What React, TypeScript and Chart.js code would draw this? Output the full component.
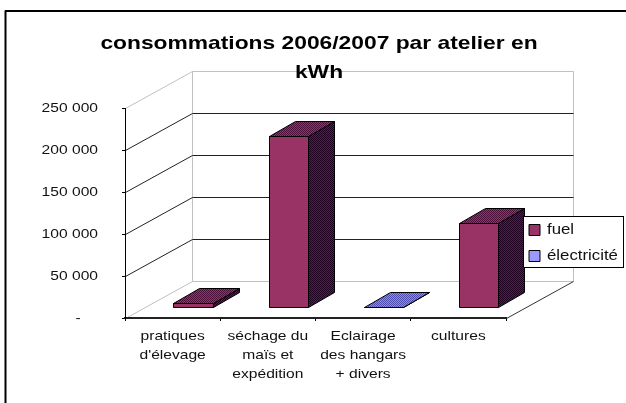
import React, { useEffect, useRef } from "react";
import { Chart, registerables } from "chart.js";

Chart.register(...registerables);

const categories = [
  ["pratiques", "d'élevage"],
  ["séchage du", "maïs et", "expédition"],
  ["Eclairage", "des hangars", "+ divers"],
  ["cultures"],
];
const fuel = [5000, 204000, 0, 100000];
const electricite = [0, 0, 500, 0];
const titleLines = ["consommations 2006/2007 par atelier en", "kWh"];

const FONT = "'Liberation Sans', Arial, sans-serif";
const TEXT_STRETCH = 1.2;
const WALL = { dx: 67, dy: -37 };
const BAR_FRONT = { dx: 20.4, dy: -11 };
const BAR_DEPTH = { dx: 26, dy: -15 };

function dither(ctx: CanvasRenderingContext2D, a: string, b: string) {
  const c = document.createElement("canvas");
  c.width = 2;
  c.height = 2;
  const g = c.getContext("2d")!;
  g.fillStyle = a;
  g.fillRect(0, 0, 2, 2);
  g.fillStyle = b;
  g.fillRect(0, 0, 1, 1);
  g.fillRect(1, 1, 1, 1);
  return ctx.createPattern(c, "repeat")!;
}

function line(ctx: CanvasRenderingContext2D, x1: number, y1: number, x2: number, y2: number, color: string, w = 1) {
  ctx.beginPath();
  ctx.moveTo(x1, y1);
  ctx.lineTo(x2, y2);
  ctx.strokeStyle = color;
  ctx.lineWidth = w;
  ctx.stroke();
}

function poly(ctx: CanvasRenderingContext2D, pts: number[][], fill: any) {
  ctx.beginPath();
  pts.forEach(([x, y], i) => (i ? ctx.lineTo(x, y) : ctx.moveTo(x, y)));
  ctx.closePath();
  ctx.fillStyle = fill;
  ctx.fill();
  ctx.strokeStyle = "#000";
  ctx.lineWidth = 1;
  ctx.stroke();
}

const plugin3d = {
  id: "plugin3d",
  beforeInit(chart: any) {
    // the reference's text is stretched sideways: widen each glyph run about its anchor
    const ctx = chart.ctx;
    const orig = ctx.fillText.bind(ctx);
    ctx.fillText = (t: string, x: number, y: number) => {
      ctx.save();
      ctx.translate(x, y);
      ctx.scale(TEXT_STRETCH, 1);
      orig(t, 0, 0);
      ctx.restore();
    };
  },
  beforeLayout(chart: any) {
    const legend = chart.legend;
    if (legend && !legend.__patched) {
      legend.__patched = true;
      legend._layers = () => [
        {
          z: 10,
          draw: (area: any) => {
            const ctx = chart.ctx;
            ctx.save();
            ctx.fillStyle = "#fff";
            ctx.fillRect(523.5, 216.5, 100, 51);
            ctx.strokeStyle = "#000";
            ctx.lineWidth = 1;
            ctx.strokeRect(523.5, 216.5, 100, 51);
            ctx.restore();
            legend.draw(area);
          },
        },
      ];
    }
  },
  afterLayout(chart: any) {
    const l = chart.legend;
    l.left = 517;
    l.right = 626;
    l.top = 211;
    l.bottom = 300;
    const t = chart.titleBlock;
    t.left = 6;
    t.right = 632;
  },
  beforeDraw(chart: any) {
    const ctx = chart.ctx;
    const { left, right, top, bottom } = chart.chartArea;
    const y = chart.scales.y;
    const L = Math.round(left) + 0.5;
    const R = Math.round(right) + 0.5;
    const T = Math.round(top) + 0.5;
    const B = Math.round(bottom) + 0.5;
    ctx.save();
    // outer frame
    line(ctx, 5.5, 403, 5.5, 10.5, "#000", 2);
    line(ctx, 5, 11, 626, 11, "#000", 2);
    // walls
    const grey = "#c0c0c0";
    line(ctx, L, T, L + WALL.dx, T + WALL.dy, grey);
    line(ctx, L + WALL.dx, T + WALL.dy, R + WALL.dx, T + WALL.dy, grey);
    line(ctx, R + WALL.dx, T + WALL.dy, R + WALL.dx, B + WALL.dy, grey);
    line(ctx, L + WALL.dx, T + WALL.dy, L + WALL.dx, B + WALL.dy, grey);
    line(ctx, L, B, L + WALL.dx, B + WALL.dy, grey);
    line(ctx, L + WALL.dx, B + WALL.dy, R + WALL.dx, B + WALL.dy, grey);
    line(ctx, R, B, R + WALL.dx, B + WALL.dy, "#333");
    y.ticks.forEach((t: any) => {
      if (t.value === 0 || t.value === y.max) return;
      const py = Math.round(y.getPixelForValue(t.value)) + 0.5;
      line(ctx, L, py, L + WALL.dx, py + WALL.dy, "#222");
      line(ctx, L + WALL.dx, py + WALL.dy, R + WALL.dx, py + WALL.dy, "#222");
    });
    ctx.restore();
  },
  beforeDatasetDraw(chart: any, args: any) {
    const ctx = chart.ctx;
    const ds = chart.data.datasets[args.index];
    const patterns = ds.label === "fuel"
      ? { top: dither(ctx, "#993366", "#4d0f3a"), side: dither(ctx, "#6b1060", "#200020") }
      : { top: dither(ctx, "#8888ee", "#5050b0"), side: dither(ctx, "#6666cc", "#333399") };
    ctx.save();
    args.meta.data.forEach((bar: any, i: number) => {
      if (!ds.data[i]) return;
      const { x, y, base, width } = bar.getProps(["x", "y", "base", "width"], true);
      const x1 = Math.round(x - width / 2 + BAR_FRONT.dx) + 0.5;
      const x2 = Math.round(x + width / 2 + BAR_FRONT.dx) + 0.5;
      const yt = Math.round(y + BAR_FRONT.dy) + 0.5;
      const yb = Math.round(base + BAR_FRONT.dy) + 0.5;
      const { dx, dy } = BAR_DEPTH;
      poly(ctx, [[x2, yt], [x2 + dx, yt + dy], [x2 + dx, yb + dy], [x2, yb]], patterns.side);
      poly(ctx, [[x1, yt], [x1 + dx, yt + dy], [x2 + dx, yt + dy], [x2, yt]], patterns.top);
      poly(ctx, [[x1, yt], [x2, yt], [x2, yb], [x1, yb]], ds.backgroundColor);
    });
    ctx.restore();
    return false;
  },
};

export default function App() {
  const ref = useRef<HTMLCanvasElement>(null);
  useEffect(() => {
    const chart = new Chart(ref.current!, {
      type: "bar",
      data: {
        labels: categories as any,
        datasets: [
          { label: "fuel", data: fuel, backgroundColor: "#993366", borderColor: "#000", borderWidth: 1 },
          { label: "électricité", data: electricite, backgroundColor: "#9999ff", borderColor: "#000", borderWidth: 1 },
        ],
      },
      options: {
        animation: false,
        responsive: false,
        layout: { padding: { left: 0, right: 120, top: 0, bottom: 0 } },
        categoryPercentage: 1,
        barPercentage: 0.41,
        scales: {
          x: {
            stacked: true,
            offset: true,
            border: { display: true, color: "#222", width: 2 },
            grid: { display: true, offset: true, drawOnChartArea: false, drawTicks: true, tickLength: 3, color: "#000" },
            ticks: {
              autoSkip: false,
              maxRotation: 0,
              minRotation: 0,
              padding: 6,
              color: "#111",
              font: { family: FONT, size: 13, lineHeight: 19 / 13 },
            },
            afterFit: (s: any) => {
              s.height = 85;
            },
          },
          y: {
            stacked: true,
            min: 0,
            max: 250000,
            border: { display: true, color: "#000", width: 1 },
            grid: { display: true, drawOnChartArea: false, drawTicks: true, tickLength: 3, color: "#000" },
            ticks: {
              stepSize: 50000,
              padding: 24,
              color: "#111",
              font: { family: FONT, size: 13 },
              callback: (v: any) => (v === 0 ? "-    " : String(v).replace(/\B(?=(\d{3})+$)/g, " ")),
            },
            afterFit: (s: any) => {
              s.width = 125;
            },
          },
        },
        plugins: {
          title: {
            display: true,
            text: titleLines,
            color: "#000",
            font: { family: FONT, size: 19, weight: "bold", lineHeight: 29 / 19 },
            padding: { top: 29, bottom: 21 },
          },
          legend: {
            display: true,
            position: "chartArea",
            align: "start",
            labels: {
              boxWidth: 11,
              boxHeight: 11,
              padding: 12,
              color: "#111",
              font: { family: FONT, size: 14 },
            },
          },
          tooltip: { enabled: false },
        },
      } as any,
      plugins: [plugin3d as any],
    });
    return () => chart.destroy();
  }, []);
  return (
    <div style={{ position: "absolute", left: 0, top: 0, width: 626, height: 403 }}>
      <canvas ref={ref} width={626} height={403} style={{ display: "block" }} />
    </div>
  );
}
